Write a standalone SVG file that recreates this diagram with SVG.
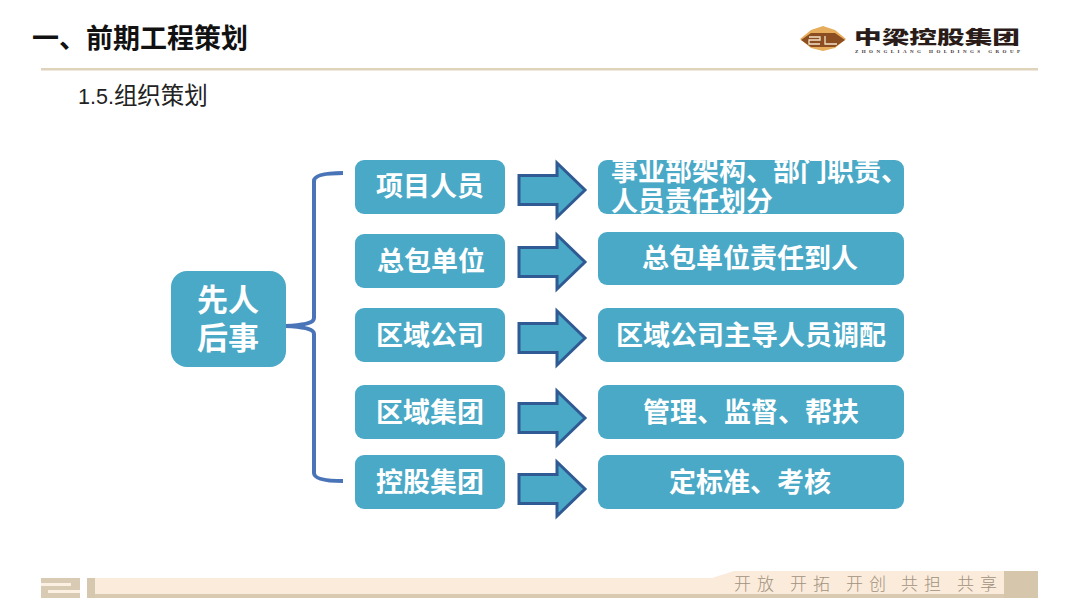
<svg xmlns="http://www.w3.org/2000/svg" xmlns:xlink="http://www.w3.org/1999/xlink" width="1080" height="608" viewBox="0 0 1080 608">
<style>
.box{fill:#4aa9c6}
.lbl{font-family:"Noto Sans CJK SC","Noto Sans",sans-serif;font-weight:700;font-size:27px;fill:#fff;text-anchor:middle}
.arrow{fill:#4aa9c6;stroke:#2f5a94;stroke-width:3;stroke-linejoin:miter}
.head{font-family:"Noto Sans CJK SC","Noto Sans",sans-serif}
</style>
<defs>
<path id="arr" class="arrow" d="M-47 -14.5H-9V-27L19 0L-9 27V14.5H-47Z"/>
</defs>
<rect width="1080" height="608" fill="#fff"/>
<g id="header">
<text class="head" x="32" y="48" font-size="27" font-weight="700" fill="#111">一、前期工程策划</text>
<text class="head" x="78" y="104" font-size="23.5" fill="#222"><tspan font-family="Liberation Sans" font-size="21.5">1.5.</tspan>组织策划</text>
<rect x="41" y="68" width="997" height="2.5" fill="#dfd3bc"/>
</g>
<g id="logo">
<path d="M800 39L811 30L823 26L835 30L846 39L835 48L823 51L811 48Z" fill="#e6ae5c"/>
<path d="M801 40L811 33L835 33L845 40L835 47L811 47Z" fill="#8c4d20"/>
<polyline points="809,37 820,37 820,40 809,40 809,44 820,44" fill="none" stroke="#f3e2c8" stroke-width="1.3"/>
<polyline points="825,36 825,44 837,44" fill="none" stroke="#f3e2c8" stroke-width="1.3"/>
<text class="head" x="854" y="44" font-size="18.5" font-weight="900" fill="#2a1c18" textLength="166" lengthAdjust="spacingAndGlyphs">中梁控股集团</text>
<text x="855" y="53" font-family="Liberation Serif,serif" font-size="5" font-weight="700" fill="#3a3030" textLength="165" lengthAdjust="spacing">ZHONGLIANG HOLDINGS GROUP</text>
</g>
<g id="connectors">
<path d="M343 173C326 173 314 175 314 181V318C314 322 308 325 285 326C308 327 314 330 314 334V473C314 479 326 481 343 481" fill="none" stroke="#4a74b8" stroke-width="4"/>
<use xlink:href="#arr" href="#arr" x="566" y="190"/>
<use xlink:href="#arr" href="#arr" x="566" y="262"/>
<use xlink:href="#arr" href="#arr" x="566" y="338"/>
<use xlink:href="#arr" href="#arr" x="566" y="418"/>
<use xlink:href="#arr" href="#arr" x="566" y="489"/>
</g>
<g id="root">
<rect class="box" x="171" y="271" width="115" height="96" rx="16"/>
<text class="lbl" style="font-size:31px" x="228" y="311">先人</text>
<text class="lbl" style="font-size:31px" x="228" y="349">后事</text>
</g>
<g id="n1"><rect class="box" x="355" y="160" width="150" height="54" rx="9"/><text class="lbl" x="430" y="196">项目人员</text></g>
<g id="n2"><rect class="box" x="355" y="234" width="150" height="54" rx="9"/><text class="lbl" x="431" y="271">总包单位</text></g>
<g id="n3"><rect class="box" x="355" y="308" width="150" height="54" rx="9"/><text class="lbl" x="430" y="345">区域公司</text></g>
<g id="n4"><rect class="box" x="355" y="385" width="150" height="54" rx="9"/><text class="lbl" x="430" y="422">区域集团</text></g>
<g id="n5"><rect class="box" x="355" y="455" width="150" height="54" rx="9"/><text class="lbl" x="430" y="492">控股集团</text></g>
<g id="r1"><rect class="box" x="598" y="160" width="306" height="54" rx="9"/>
<text class="lbl" style="text-anchor:start" x="611" y="181">事业部架构、部门职责、</text>
<text class="lbl" style="text-anchor:start" x="611" y="211">人员责任划分</text></g>
<g id="r2"><rect class="box" x="598" y="232" width="306" height="53" rx="9"/><text class="lbl" x="750" y="268">总包单位责任到人</text></g>
<g id="r3"><rect class="box" x="598" y="308" width="306" height="54" rx="9"/><text class="lbl" x="751" y="345">区域公司主导人员调配</text></g>
<g id="r4"><rect class="box" x="598" y="385" width="306" height="54" rx="9"/><text class="lbl" x="751" y="422">管理、监督、帮扶</text></g>
<g id="r5"><rect class="box" x="598" y="455" width="306" height="54" rx="9"/><text class="lbl" x="750" y="492">定标准、考核</text></g>
<g id="footer">
<path d="M95 578H712L734 571H1004V598H95Z" fill="#fbebdb"/>
<rect x="95" y="594" width="943" height="4" fill="#d8c9b0"/>
<rect x="1004" y="571" width="34" height="27" fill="#d6c6ab"/>
<rect x="41" y="578" width="39" height="20" fill="#d9cbb3"/>
<rect x="41" y="583" width="30" height="3" fill="#fbf0e2"/>
<rect x="48" y="590" width="32" height="3" fill="#fbf0e2"/>
<rect x="87" y="578" width="8" height="20" fill="#d6c8ae"/>
<text x="734 757 790 813 846 869 901 924 957 980" y="590" font-family="Noto Sans CJK SC,sans-serif" font-size="17" font-weight="300" fill="#a0927e">开放开拓开创共担共享</text>
</g>
</svg>
